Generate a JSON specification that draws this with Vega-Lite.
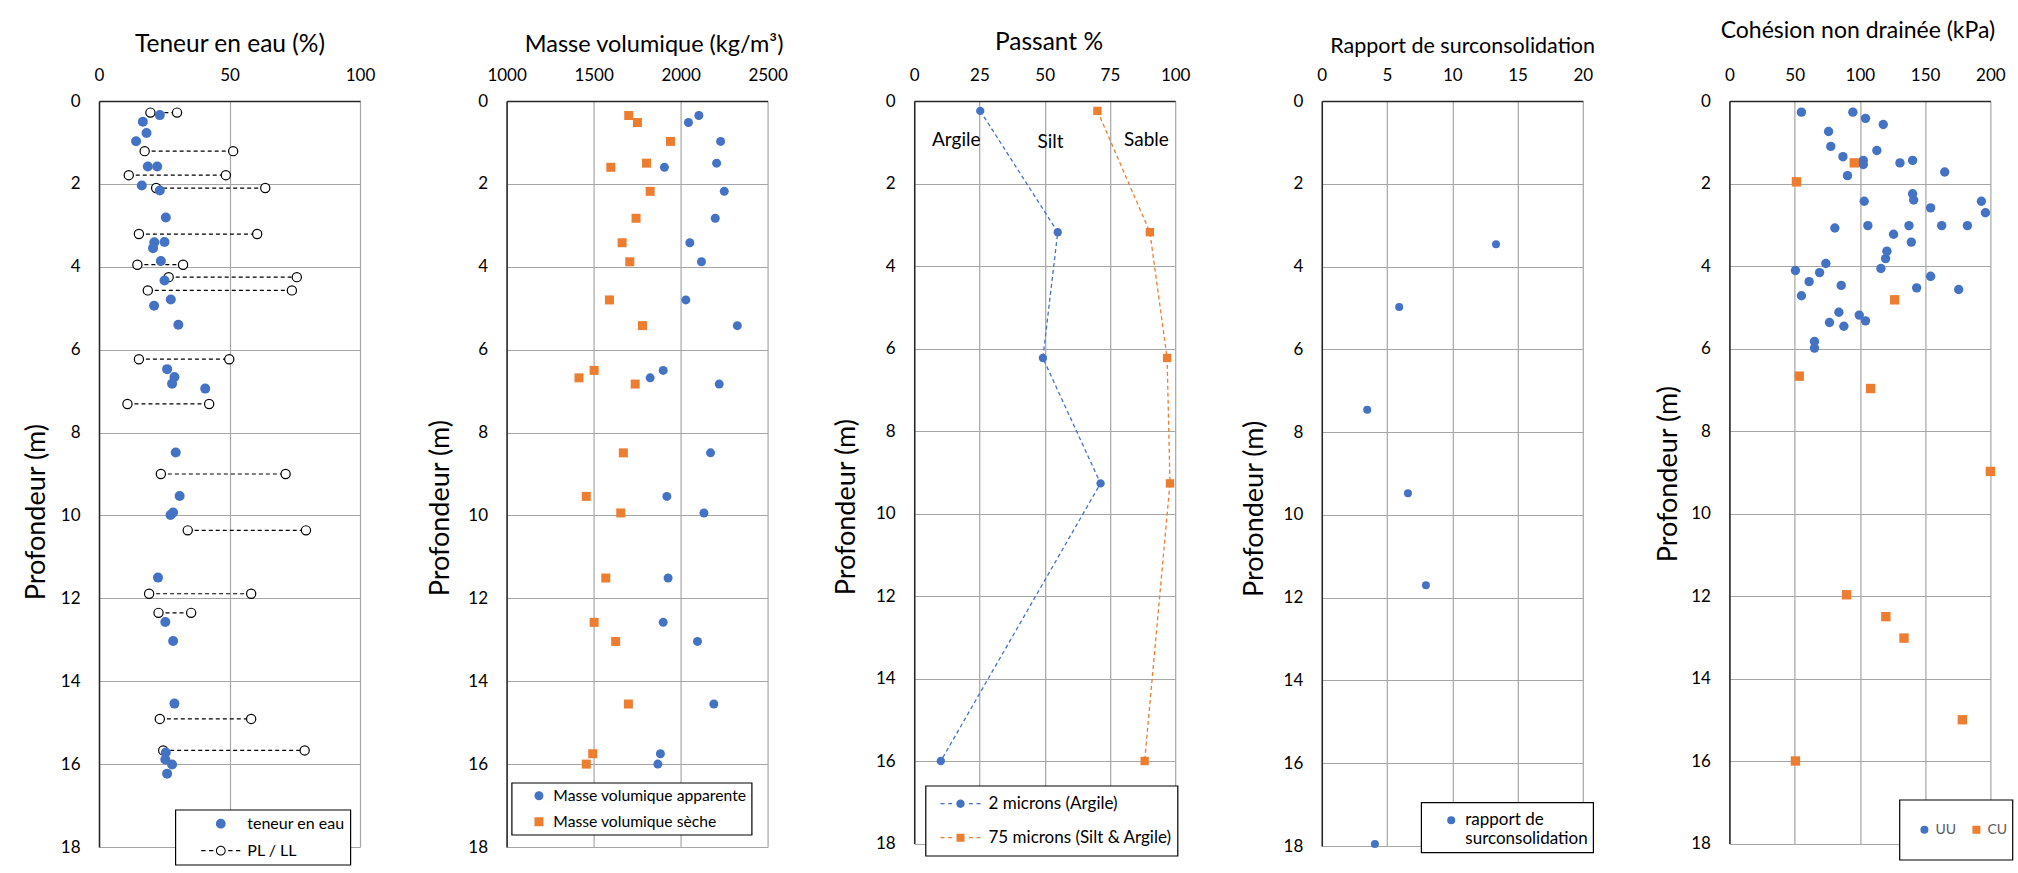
{
  "$schema": "https://vega.github.io/schema/vega-lite/v6.json",
  "background": "white",
  "padding": {"left": 22, "top": 19, "right": 5, "bottom": 5},
  "bounds": "flush",
  "spacing": 146.6,
  "resolve": {
    "scale": {"x": "independent", "y": "independent", "fill": "independent", "stroke": "independent", "shape": "independent"},
    "legend": {"fill": "independent", "stroke": "independent", "shape": "independent"}
  },
  "datasets": {
    "teneur": [
      {"d": 0.34, "v": 23.3}, {"d": 0.50, "v": 16.8}, {"d": 0.77, "v": 18.2}, {"d": 0.97, "v": 14.2},
      {"d": 1.58, "v": 18.7}, {"d": 1.58, "v": 22.3}, {"d": 2.04, "v": 16.4}, {"d": 2.16, "v": 23.3},
      {"d": 2.81, "v": 25.6}, {"d": 3.41, "v": 21.2}, {"d": 3.40, "v": 25.1}, {"d": 3.55, "v": 20.7},
      {"d": 3.86, "v": 23.7}, {"d": 4.33, "v": 25.1}, {"d": 4.79, "v": 27.5}, {"d": 4.94, "v": 21.1},
      {"d": 5.40, "v": 30.4}, {"d": 6.47, "v": 26.1}, {"d": 6.66, "v": 28.9}, {"d": 6.82, "v": 28.0},
      {"d": 6.94, "v": 40.7}, {"d": 8.48, "v": 29.4}, {"d": 9.53, "v": 30.9}, {"d": 9.93, "v": 28.4},
      {"d": 9.99, "v": 27.4}, {"d": 11.50, "v": 22.6}, {"d": 12.57, "v": 25.4}, {"d": 13.03, "v": 28.4},
      {"d": 14.54, "v": 28.9}, {"d": 15.72, "v": 25.6}, {"d": 15.89, "v": 25.4}, {"d": 16.01, "v": 28.0},
      {"d": 16.23, "v": 26.1}
    ],
    "limites": [
      {"d": 0.28, "pl": 19.7, "ll": 29.9}, {"d": 1.21, "pl": 17.5, "ll": 51.4}, {"d": 1.79, "pl": 11.4, "ll": 48.6},
      {"d": 2.10, "pl": 21.9, "ll": 63.7}, {"d": 3.21, "pl": 15.3, "ll": 60.6}, {"d": 3.95, "pl": 14.7, "ll": 32.2},
      {"d": 4.25, "pl": 26.7, "ll": 75.8}, {"d": 4.57, "pl": 18.7, "ll": 73.9}, {"d": 6.23, "pl": 15.3, "ll": 49.9},
      {"d": 7.31, "pl": 10.9, "ll": 42.2}, {"d": 9.00, "pl": 23.7, "ll": 71.5}, {"d": 10.36, "pl": 34.0, "ll": 79.3},
      {"d": 11.89, "pl": 19.2, "ll": 58.3}, {"d": 12.35, "pl": 22.8, "ll": 35.3}, {"d": 14.91, "pl": 23.3, "ll": 58.3},
      {"d": 15.67, "pl": 24.6, "ll": 78.8}
    ],
    "masse": [
      {"d": 0.35, "v": 2105, "s": "Masse volumique apparente"}, {"d": 0.52, "v": 2045, "s": "Masse volumique apparente"},
      {"d": 0.975, "v": 2230, "s": "Masse volumique apparente"}, {"d": 1.50, "v": 2207, "s": "Masse volumique apparente"},
      {"d": 1.60, "v": 1907, "s": "Masse volumique apparente"}, {"d": 2.18, "v": 2251, "s": "Masse volumique apparente"},
      {"d": 2.83, "v": 2199, "s": "Masse volumique apparente"}, {"d": 3.42, "v": 2053, "s": "Masse volumique apparente"},
      {"d": 3.88, "v": 2120, "s": "Masse volumique apparente"}, {"d": 4.80, "v": 2030, "s": "Masse volumique apparente"},
      {"d": 5.42, "v": 2326, "s": "Masse volumique apparente"}, {"d": 6.50, "v": 1900, "s": "Masse volumique apparente"},
      {"d": 6.68, "v": 1825, "s": "Masse volumique apparente"}, {"d": 6.83, "v": 2222, "s": "Masse volumique apparente"},
      {"d": 8.49, "v": 2172, "s": "Masse volumique apparente"}, {"d": 9.54, "v": 1921, "s": "Masse volumique apparente"},
      {"d": 9.94, "v": 2134, "s": "Masse volumique apparente"}, {"d": 11.51, "v": 1928, "s": "Masse volumique apparente"},
      {"d": 12.58, "v": 1900, "s": "Masse volumique apparente"}, {"d": 13.04, "v": 2097, "s": "Masse volumique apparente"},
      {"d": 14.55, "v": 2191, "s": "Masse volumique apparente"}, {"d": 15.75, "v": 1884, "s": "Masse volumique apparente"},
      {"d": 16.0, "v": 1869, "s": "Masse volumique apparente"},
      {"d": 0.35, "v": 1702, "s": "Masse volumique sèche"}, {"d": 0.52, "v": 1752, "s": "Masse volumique sèche"},
      {"d": 0.975, "v": 1942, "s": "Masse volumique sèche"}, {"d": 1.50, "v": 1804, "s": "Masse volumique sèche"},
      {"d": 1.60, "v": 1599, "s": "Masse volumique sèche"}, {"d": 2.18, "v": 1825, "s": "Masse volumique sèche"},
      {"d": 2.83, "v": 1744, "s": "Masse volumique sèche"}, {"d": 3.42, "v": 1664, "s": "Masse volumique sèche"},
      {"d": 3.88, "v": 1708, "s": "Masse volumique sèche"}, {"d": 4.80, "v": 1591, "s": "Masse volumique sèche"},
      {"d": 5.42, "v": 1781, "s": "Masse volumique sèche"}, {"d": 6.50, "v": 1503, "s": "Masse volumique sèche"},
      {"d": 6.68, "v": 1416, "s": "Masse volumique sèche"}, {"d": 6.83, "v": 1739, "s": "Masse volumique sèche"},
      {"d": 8.49, "v": 1671, "s": "Masse volumique sèche"}, {"d": 9.54, "v": 1458, "s": "Masse volumique sèche"},
      {"d": 9.94, "v": 1656, "s": "Masse volumique sèche"}, {"d": 11.51, "v": 1570, "s": "Masse volumique sèche"},
      {"d": 12.58, "v": 1503, "s": "Masse volumique sèche"}, {"d": 13.04, "v": 1627, "s": "Masse volumique sèche"},
      {"d": 14.55, "v": 1700, "s": "Masse volumique sèche"}, {"d": 15.75, "v": 1495, "s": "Masse volumique sèche"},
      {"d": 16.0, "v": 1458, "s": "Masse volumique sèche"}
    ],
    "argile": [
      {"d": 0.24, "v": 25.3}, {"d": 3.18, "v": 55.0}, {"d": 6.23, "v": 49.3}, {"d": 9.27, "v": 71.4}, {"d": 16.0, "v": 10.2}
    ],
    "silt": [
      {"d": 0.24, "v": 70.2}, {"d": 3.18, "v": 90.3}, {"d": 6.23, "v": 96.9}, {"d": 9.27, "v": 98.0}, {"d": 16.0, "v": 88.3}
    ],
    "annot": [
      {"d": 0.95, "v": 16.1, "t": "Argile"}, {"d": 0.99, "v": 52.2, "t": "Silt"}, {"d": 0.95, "v": 89.0, "t": "Sable"}
    ],
    "ocr": [
      {"d": 3.46, "v": 13.35}, {"d": 4.98, "v": 5.93}, {"d": 7.46, "v": 3.48}, {"d": 9.48, "v": 6.60},
      {"d": 11.70, "v": 7.98}, {"d": 17.95, "v": 4.07}
    ],
    "cohesion": [
      {"d": 0.27, "v": 55.2, "s": "UU"}, {"d": 0.27, "v": 94.6, "s": "UU"}, {"d": 0.42, "v": 104.3, "s": "UU"},
      {"d": 0.57, "v": 117.9, "s": "UU"}, {"d": 0.74, "v": 76.0, "s": "UU"}, {"d": 1.10, "v": 77.7, "s": "UU"},
      {"d": 1.20, "v": 113.0, "s": "UU"}, {"d": 1.35, "v": 87.0, "s": "UU"}, {"d": 1.44, "v": 102.6, "s": "UU"},
      {"d": 1.54, "v": 102.6, "s": "UU"}, {"d": 1.50, "v": 130.7, "s": "UU"}, {"d": 1.44, "v": 140.4, "s": "UU"},
      {"d": 1.72, "v": 165.0, "s": "UU"}, {"d": 1.81, "v": 90.5, "s": "UU"}, {"d": 2.25, "v": 140.4, "s": "UU"},
      {"d": 2.40, "v": 141.2, "s": "UU"}, {"d": 2.43, "v": 103.3, "s": "UU"}, {"d": 2.43, "v": 193.1, "s": "UU"},
      {"d": 2.59, "v": 154.2, "s": "UU"}, {"d": 2.71, "v": 196.2, "s": "UU"}, {"d": 3.08, "v": 80.8, "s": "UU"},
      {"d": 3.02, "v": 106.1, "s": "UU"}, {"d": 3.02, "v": 137.6, "s": "UU"}, {"d": 3.02, "v": 162.7, "s": "UU"},
      {"d": 3.02, "v": 182.4, "s": "UU"}, {"d": 3.23, "v": 125.8, "s": "UU"}, {"d": 3.42, "v": 139.4, "s": "UU"},
      {"d": 3.64, "v": 120.7, "s": "UU"}, {"d": 3.82, "v": 119.7, "s": "UU"}, {"d": 3.94, "v": 73.9, "s": "UU"},
      {"d": 4.11, "v": 50.6, "s": "UU"}, {"d": 4.16, "v": 69.1, "s": "UU"}, {"d": 4.06, "v": 116.1, "s": "UU"},
      {"d": 4.25, "v": 154.2, "s": "UU"}, {"d": 4.38, "v": 61.1, "s": "UU"}, {"d": 4.47, "v": 85.7, "s": "UU"},
      {"d": 4.53, "v": 143.5, "s": "UU"}, {"d": 4.57, "v": 175.7, "s": "UU"}, {"d": 4.72, "v": 55.2, "s": "UU"},
      {"d": 5.12, "v": 83.9, "s": "UU"}, {"d": 5.19, "v": 99.5, "s": "UU"}, {"d": 5.37, "v": 76.7, "s": "UU"},
      {"d": 5.33, "v": 104.3, "s": "UU"}, {"d": 5.46, "v": 87.7, "s": "UU"}, {"d": 5.83, "v": 65.2, "s": "UU"},
      {"d": 5.99, "v": 65.2, "s": "UU"},
      {"d": 1.50, "v": 95.7, "s": "CU"}, {"d": 1.96, "v": 51.4, "s": "CU"}, {"d": 4.82, "v": 126.6, "s": "CU"},
      {"d": 6.67, "v": 53.5, "s": "CU"}, {"d": 6.97, "v": 108.2, "s": "CU"}, {"d": 8.98, "v": 200.0, "s": "CU"},
      {"d": 11.97, "v": 89.8, "s": "CU"}, {"d": 12.50, "v": 119.9, "s": "CU"}, {"d": 13.02, "v": 133.8, "s": "CU"},
      {"d": 15.0, "v": 178.5, "s": "CU"}, {"d": 16.0, "v": 50.6, "s": "CU"}
    ]
  },
  "hconcat": [
    {
      "width": 261, "height": 746,
      "encoding": {
        "y": {"field": "d", "type": "quantitative", "title": "Profondeur (m)",
          "scale": {"domain": [0, 18], "reverse": true, "nice": false, "zero": false},
          "axis": {"orient": "left", "values": [0, 2, 4, 6, 8, 10, 12, 14, 16, 18], "labelPadding": 19, "titleFontSize": 27, "titleX": -63, "titleY": 410.7, "titleBaseline": "middle", "labelFlush": false, "labelOverlap": false, "labelBaseline": "middle"}}
      },
      "layer": [
        {
          "data": {"name": "limites"},
          "mark": {"type": "rule", "color": "black", "strokeWidth": 1.2, "strokeDash": [4, 3]},
          "encoding": {
            "x": {"field": "pl", "type": "quantitative", "title": "Teneur en eau (%)",
              "scale": {"domain": [0, 100], "nice": false, "zero": false},
              "axis": {"orient": "top", "values": [0, 50, 100], "labelPadding": 16.5, "titleFontSize": 24.5, "titleX": 130.5, "titleY": -50, "titleBaseline": "alphabetic", "titleAlign": "center", "labelFlush": false, "labelOverlap": false}},
            "x2": {"field": "ll"}
          }
        },
        {
          "data": {"name": "limites"},
          "transform": [{"fold": ["pl", "ll"], "as": ["k", "v"]}],
          "mark": {"type": "point", "shape": "circle", "filled": true, "size": 85, "fill": "white", "stroke": "black", "strokeWidth": 1.2, "opacity": 1},
          "encoding": {
            "x": {"field": "v", "type": "quantitative", "title": "Teneur en eau (%)"}
          }
        },
        {
          "data": {"name": "teneur"},
          "mark": {"type": "point", "shape": "circle", "filled": true, "size": 100, "fill": "#4472C4", "opacity": 1, "strokeWidth": 0},
          "encoding": {
            "x": {"field": "v", "type": "quantitative", "title": "Teneur en eau (%)"}
          }
        },
        {
          "data": {"values": []},
          "mark": {"type": "point", "filled": true, "opacity": 1, "strokeWidth": 0},
          "encoding": {
            "fill": {"datum": "teneur en eau", "type": "nominal",
              "scale": {"domain": ["teneur en eau", "PL / LL"], "range": ["#4472C4", "black"]},
              "legend": {"orient": "none", "legendX": 76.3, "legendY": 708.7, "title": null, "padding": 5,
                "symbolSize": 1521, "clipHeight": 18, "rowPadding": 9, "symbolOffset": 21, "labelOffset": 7,
                "symbolStrokeWidth": 0, "labelFontSize": 16, "strokeColor": "black", "fillColor": "white",
                "labelExpr": "datum.label + '\u00a0\u00a0\u00a0'"}},
            "shape": {"datum": "teneur en eau", "type": "nominal",
              "scale": {"domain": ["teneur en eau", "PL / LL"], "range": [
                "M0.25,0C0.25,0.138 0.138,0.25 0,0.25C-0.138,0.25 -0.25,0.138 -0.25,0C-0.25,-0.138 -0.138,-0.25 0,-0.25C0.138,-0.25 0.25,-0.138 0.25,0Z",
                "M-1,-0.03H-0.78V0.03H-1ZM-0.6,-0.03H-0.38V0.03H-0.6ZM0.38,-0.03H0.6V0.03H0.38ZM0.78,-0.03H1V0.03H0.78ZM0.25,0C0.25,0.138 0.138,0.25 0,0.25C-0.138,0.25 -0.25,0.138 -0.25,0C-0.25,-0.138 -0.138,-0.25 0,-0.25C0.138,-0.25 0.25,-0.138 0.25,0ZM0.2,0C0.2,-0.11 0.11,-0.2 0,-0.2C-0.11,-0.2 -0.2,-0.11 -0.2,0C-0.2,0.11 -0.11,0.2 0,0.2C0.11,0.2 0.2,0.11 0.2,0Z"]},
              "legend": {"orient": "none", "legendX": 76.3, "legendY": 708.7, "title": null, "padding": 5,
                "symbolSize": 1521, "clipHeight": 18, "rowPadding": 9, "symbolOffset": 21, "labelOffset": 7,
                "symbolStrokeWidth": 0, "labelFontSize": 16, "strokeColor": "black", "fillColor": "white",
                "labelExpr": "datum.label + '\u00a0\u00a0\u00a0'"}}
          }
        }
      ]
    },
    {
      "width": 261, "height": 746,
      "encoding": {
        "y": {"field": "d", "type": "quantitative", "title": "Profondeur (m)",
          "scale": {"domain": [0, 18], "reverse": true, "nice": false, "zero": false},
          "axis": {"orient": "left", "values": [0, 2, 4, 6, 8, 10, 12, 14, 16, 18], "labelPadding": 19, "titleFontSize": 27, "titleX": -66, "titleY": 406.7, "titleBaseline": "middle", "labelFlush": false, "labelOverlap": false, "labelBaseline": "middle"}}
      },
      "layer": [
        {
          "data": {"name": "masse"},
          "transform": [{"filter": "datum.s === 'Masse volumique apparente'"}],
          "mark": {"type": "point", "shape": "circle", "filled": true, "fill": "#4472C4", "size": 81, "opacity": 1, "strokeWidth": 0},
          "encoding": {
            "x": {"field": "v", "type": "quantitative", "title": "Masse volumique (kg/m³)",
              "scale": {"domain": [1000, 2500], "nice": false, "zero": false},
              "axis": {"orient": "top", "values": [1000, 1500, 2000, 2500], "format": "d", "labelPadding": 16.5, "titleFontSize": 23.5, "titleX": 147, "titleY": -50, "titleBaseline": "alphabetic", "titleAlign": "center", "labelFlush": false, "labelOverlap": false}}
          }
        },
        {
          "data": {"name": "masse"},
          "transform": [{"filter": "datum.s === 'Masse volumique sèche'"}],
          "mark": {"type": "point", "shape": "square", "filled": true, "fill": "#ED7D31", "size": 81, "opacity": 1, "strokeWidth": 0},
          "encoding": {
            "x": {"field": "v", "type": "quantitative", "title": "Masse volumique (kg/m³)"}
          }
        },
        {
          "data": {"values": []},
          "mark": {"type": "point", "filled": true, "opacity": 1, "strokeWidth": 0},
          "encoding": {
            "fill": {"datum": "Masse volumique apparente", "type": "nominal",
              "scale": {"domain": ["Masse volumique apparente", "Masse volumique sèche"], "range": ["#4472C4", "#ED7D31"]},
              "legend": {"orient": "none", "legendX": 5, "legendY": 681.7, "title": null, "padding": 5,
                "symbolSize": 81, "clipHeight": 16, "rowPadding": 10, "symbolOffset": 14.5, "labelOffset": 6.5,
                "symbolStrokeWidth": 0, "labelFontSize": 15.7, "strokeColor": "black", "fillColor": "white",
                "labelExpr": "datum.label + '\u00a0\u00a0\u00a0\u00a0'"}},
            "shape": {"datum": "Masse volumique apparente", "type": "nominal",
              "scale": {"domain": ["Masse volumique apparente", "Masse volumique sèche"], "range": ["circle", "square"]}}
          }
        }
      ]
    },
    {
      "width": 261, "height": 742.5,
      "encoding": {
        "y": {"field": "d", "type": "quantitative", "title": "Profondeur (m)",
          "scale": {"domain": [0, 18], "reverse": true, "nice": false, "zero": false},
          "axis": {"orient": "left", "values": [0, 2, 4, 6, 8, 10, 12, 14, 16, 18], "labelPadding": 19, "titleFontSize": 27, "titleX": -67.7, "titleY": 405.7, "titleBaseline": "middle", "labelFlush": false, "labelOverlap": false, "labelBaseline": "middle"}}
      },
      "layer": [
        {
          "data": {"name": "argile"},
          "mark": {"type": "line", "stroke": "#4472C4", "strokeDash": [4, 3], "strokeWidth": 1.3},
          "encoding": {
            "x": {"field": "v", "type": "quantitative", "title": "Passant %",
              "scale": {"domain": [0, 100], "nice": false, "zero": false},
              "axis": {"orient": "top", "values": [0, 25, 50, 75, 100], "labelPadding": 16.5, "titleFontSize": 24.5, "titleX": 134.3, "titleY": -51.6, "titleBaseline": "alphabetic", "titleAlign": "center", "labelFlush": false, "labelOverlap": false}},
            "order": {"field": "d", "type": "quantitative"}
          }
        },
        {
          "data": {"name": "silt"},
          "mark": {"type": "line", "stroke": "#ED7D31", "strokeDash": [4, 3], "strokeWidth": 1.3},
          "encoding": {
            "x": {"field": "v", "type": "quantitative", "title": "Passant %"},
            "order": {"field": "d", "type": "quantitative"}
          }
        },
        {
          "data": {"name": "argile"},
          "mark": {"type": "point", "shape": "circle", "filled": true, "fill": "#4472C4", "size": 70, "opacity": 1, "strokeWidth": 0},
          "encoding": {
            "x": {"field": "v", "type": "quantitative", "title": "Passant %"}
          }
        },
        {
          "data": {"name": "silt"},
          "mark": {"type": "point", "shape": "square", "filled": true, "fill": "#ED7D31", "size": 70, "opacity": 1, "strokeWidth": 0},
          "encoding": {
            "x": {"field": "v", "type": "quantitative", "title": "Passant %"}
          }
        },
        {
          "data": {"name": "annot"},
          "mark": {"type": "text", "font": "Lato", "fontSize": 19, "color": "black", "align": "center", "baseline": "middle"},
          "encoding": {
            "x": {"field": "v", "type": "quantitative", "title": "Passant %"},
            "text": {"field": "t"}
          }
        },
        {
          "data": {"values": []},
          "mark": {"type": "point", "filled": true, "opacity": 1, "strokeWidth": 0},
          "encoding": {
            "fill": {"datum": "2 microns (Argile)", "type": "nominal",
              "scale": {"domain": ["2 microns (Argile)", "75 microns (Silt & Argile)"], "range": ["#4472C4", "#ED7D31"]},
              "legend": {"orient": "none", "legendX": 11.3, "legendY": 684.7, "title": null, "padding": 5,
                "symbolSize": 1600, "clipHeight": 26, "rowPadding": 8, "symbolOffset": 10, "labelOffset": 8,
                "symbolStrokeWidth": 0, "labelFontSize": 17, "strokeColor": "black", "fillColor": "white",
                "labelExpr": "datum.label + '\u00a0'"}},
            "shape": {"datum": "2 microns (Argile)", "type": "nominal",
              "scale": {"domain": ["2 microns (Argile)", "75 microns (Silt & Argile)"], "range": [
                "M-1,-0.03H-0.8V0.03H-1ZM-0.62,-0.03H-0.42V0.03H-0.62ZM0.42,-0.03H0.62V0.03H0.42ZM0.8,-0.03H1V0.03H0.8ZM0.21,0C0.21,0.116 0.116,0.21 0,0.21C-0.116,0.21 -0.21,0.116 -0.21,0C-0.21,-0.116 -0.116,-0.21 0,-0.21C0.116,-0.21 0.21,-0.116 0.21,0Z",
                "M-1,-0.03H-0.8V0.03H-1ZM-0.62,-0.03H-0.42V0.03H-0.62ZM0.42,-0.03H0.62V0.03H0.42ZM0.8,-0.03H1V0.03H0.8ZM-0.2,-0.2H0.2V0.2H-0.2Z"]},
              "legend": {"orient": "none", "legendX": 11.3, "legendY": 684.7, "title": null, "padding": 5,
                "symbolSize": 1600, "clipHeight": 26, "rowPadding": 8, "symbolOffset": 10, "labelOffset": 8,
                "symbolStrokeWidth": 0, "labelFontSize": 17, "strokeColor": "black", "fillColor": "white",
                "labelExpr": "datum.label + '\u00a0'"}}
          }
        }
      ]
    },
    {
      "width": 261, "height": 745,
      "data": {"name": "ocr"},
      "mark": {"type": "point", "shape": "circle", "filled": true, "size": 64, "opacity": 1, "strokeWidth": 0},
      "encoding": {
        "y": {"field": "d", "type": "quantitative", "title": "Profondeur (m)",
          "scale": {"domain": [0, 18], "reverse": true, "nice": false, "zero": false},
          "axis": {"orient": "left", "values": [0, 2, 4, 6, 8, 10, 12, 14, 16, 18], "labelPadding": 19, "titleFontSize": 27, "titleX": -67.7, "titleY": 407.3, "titleBaseline": "middle", "labelFlush": false, "labelOverlap": false, "labelBaseline": "middle"}},
        "x": {"field": "v", "type": "quantitative", "title": "Rapport de surconsolidation",
          "scale": {"domain": [0, 20], "nice": false, "zero": false},
          "axis": {"orient": "top", "values": [0, 5, 10, 15, 20], "labelPadding": 16.5, "titleFontSize": 21.5, "titleX": 140.3, "titleY": -48.4, "titleBaseline": "alphabetic", "titleAlign": "center", "labelFlush": false, "labelOverlap": false}},
        "fill": {"datum": "rapport de surconsolidation", "type": "nominal",
          "scale": {"domain": ["rapport de surconsolidation"], "range": ["#4472C4"]},
          "legend": {"orient": "none", "legendX": 99.3, "legendY": 701.3, "title": null, "padding": 5,
            "symbolSize": 64, "clipHeight": 26, "symbolOffset": 16.6, "labelOffset": 5.6,
            "labelFontSize": 17, "strokeColor": "black", "fillColor": "white",
            "labelExpr": "['rapport de', 'surconsolidation\u00a0']"}}
      }
    },
    {
      "width": 261, "height": 742.5,
      "data": {"name": "cohesion"},
      "mark": {"type": "point", "filled": true, "size": 88, "opacity": 1, "strokeWidth": 0},
      "encoding": {
        "y": {"field": "d", "type": "quantitative", "title": "Profondeur (m)",
          "scale": {"domain": [0, 18], "reverse": true, "nice": false, "zero": false},
          "axis": {"orient": "left", "values": [0, 2, 4, 6, 8, 10, 12, 14, 16, 18], "labelPadding": 19, "titleFontSize": 27, "titleX": -61, "titleY": 372.7, "titleBaseline": "middle", "labelFlush": false, "labelOverlap": false, "labelBaseline": "middle"}},
        "x": {"field": "v", "type": "quantitative", "title": "Cohésion non drainée (kPa)",
          "scale": {"domain": [0, 200], "nice": false, "zero": false},
          "axis": {"orient": "top", "values": [0, 50, 100, 150, 200], "labelPadding": 16.5, "titleFontSize": 23, "titleX": 128, "titleY": -64, "titleBaseline": "alphabetic", "titleAlign": "center", "labelFlush": false, "labelOverlap": false}},
        "fill": {"field": "s", "type": "nominal",
          "scale": {"domain": ["UU", "CU"], "range": ["#4472C4", "#ED7D31"]},
          "legend": {"orient": "none", "legendX": 170, "legendY": 698.7, "title": null, "padding": 5,
            "direction": "horizontal", "columns": 2, "columnPadding": -6,
            "symbolSize": 64, "clipHeight": 50, "symbolOffset": 13, "labelOffset": 4,
            "labelFontSize": 14, "labelColor": "#595959", "strokeColor": "black", "fillColor": "white"}},
        "shape": {"field": "s", "type": "nominal",
          "scale": {"domain": ["UU", "CU"], "range": ["circle", "square"]}}
      }
    }
  ],
  "config": {
    "font": "Lato",
    "view": {"stroke": null},
    "axis": {
      "ticks": false, "tickSize": 0, "grid": true, "gridColor": "#a6a6a6", "gridWidth": 1.2,
      "domainColor": "#262626", "domainWidth": 1.5,
      "labelFont": "Lato", "labelFontSize": 17, "labelColor": "#000000",
      "titleFont": "Lato", "titleFontWeight": "normal", "titleColor": "#000000"
    },
    "legend": {"labelFont": "Lato", "labelFontSize": 15.7, "labelColor": "#000000", "labelLimit": 400, "strokeWidth": 1.2},
    "point": {"opacity": 1}
  }
}
